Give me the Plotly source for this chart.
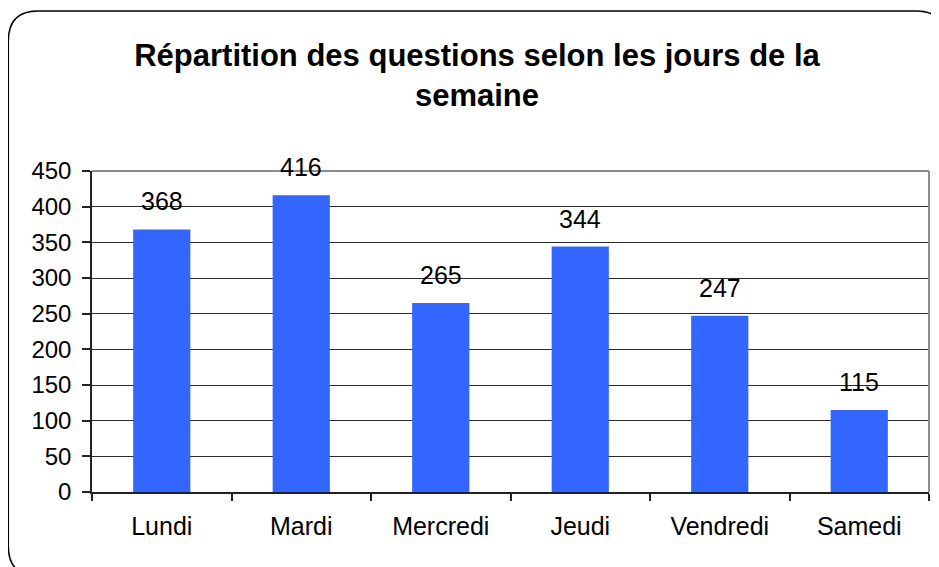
import plotly.graph_objects as go

jours = ["Lundi", "Mardi", "Mercredi", "Jeudi", "Vendredi", "Samedi"]
questions = [368, 416, 265, 344, 247, 115]
y_ticks = [0, 50, 100, 150, 200, 250, 300, 350, 400, 450]
titre = "Répartition des questions selon les jours de la<br>semaine"

# page has an 8px body margin: work in page pixels, offset by 8
OFF = 8
W, H = 939 - OFF, 567 - OFF
ML, MR, MT, MB = 92 - OFF, 10, 171 - OFF, 75
PW, PH = W - ML - MR, H - MT - MB

def px(x):
    return (x - OFF - ML) / PW

def py(y):
    return (H - MB - (y - OFF)) / PH

FONT = "Liberation Sans, Arial, sans-serif"

fig = go.Figure()
fig.add_trace(go.Bar(x=jours, y=questions, marker=dict(color="#3366FF", line=dict(width=0)),
                     hoverinfo="x+y"))

for j, q in zip(jours, questions):
    fig.add_annotation(x=j, y=q, text=str(q), showarrow=False, yanchor="middle",
                       yshift=28, font=dict(family=FONT, size=25, color="#000"))

# rounded frame
x0, x1 = px(8.3), px(946)
yt, yb = py(11), py(576)
rx, ry = 30 / PW, 30 / PH
path = (f"M {x0+rx},{yt} L {x1-rx},{yt} Q {x1},{yt} {x1},{yt-ry} "
        f"L {x1},{yb+ry} Q {x1},{yb} {x1-rx},{yb} L {x0+rx},{yb} "
        f"Q {x0},{yb} {x0},{yb+ry} L {x0},{yt-ry} Q {x0},{yt} {x0+rx},{yt} Z")
fig.add_shape(type="path", path=path, xref="paper", yref="paper",
              line=dict(color="#000", width=1.5), layer="below")
# plot-area border (top and right, grey)
fig.add_shape(type="line", xref="paper", yref="paper", x0=0, x1=1, y0=1, y1=1,
              line=dict(color="#8c8c8c", width=2), layer="above")
fig.add_shape(type="line", xref="paper", yref="paper", x0=1, x1=1, y0=0, y1=1,
              line=dict(color="#8c8c8c", width=2), layer="above")

fig.update_layout(
    width=W, height=H,
    margin=dict(l=ML, r=MR, t=MT, b=MB),
    paper_bgcolor="white", plot_bgcolor="white",
    bargap=0.59,
    showlegend=False,
    font=dict(family=FONT, color="#000"),
    title=dict(text=titre, x=(477 - OFF) / W, xanchor="center", xref="container",
               y=1 - 58 / H, yanchor="top", yref="container",
               font=dict(family=FONT, size=31, color="#000", weight="bold")),
    xaxis=dict(showline=True, linecolor="#222", linewidth=1.5, ticks="outside",
               tickson="boundaries", ticklen=7, tickcolor="#222", tickwidth=1.5,
               tickfont=dict(family=FONT, size=25, color="#000"),
               ticklabelstandoff=11, showgrid=False),
    yaxis=dict(range=[0, 450], tickvals=y_ticks, showline=True, linecolor="#222",
               linewidth=1.5, ticks="outside", ticklen=8, tickcolor="#222",
               tickwidth=1.5, showgrid=True, gridcolor="#2a2a2a", gridwidth=1,
               zeroline=False, tickfont=dict(family=FONT, size=24, color="#000"),
               ticklabelstandoff=6),
)

fig.write_html("out.html")
